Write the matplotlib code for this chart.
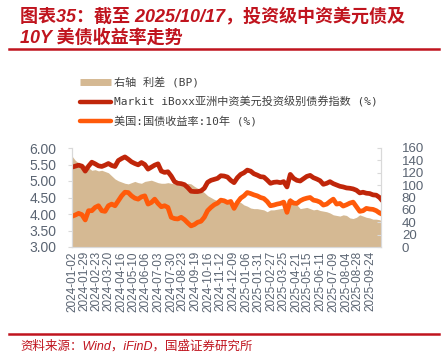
import pandas as pd
import matplotlib.pyplot as plt
from matplotlib.lines import Line2D

# weekly observation dates (plus last print 2025-10-17)
dates = pd.date_range('2024-01-02', periods=94, freq='7D').append(pd.DatetimeIndex(['2025-10-17']))

# Markit iBoxx Asia China USD IG index yield (%)
markit = [5.42, 5.45, 5.48, 5.45, 5.30, 5.45, 5.57, 5.52, 5.46, 5.44,
          5.48, 5.53, 5.47, 5.44, 5.62, 5.68, 5.73, 5.66, 5.58, 5.53,
          5.49, 5.56, 5.50, 5.36, 5.42, 5.48, 5.52, 5.30, 5.26, 5.28,
          5.15, 4.98, 4.93, 4.92, 4.89, 4.80, 4.69, 4.68, 4.68, 4.70,
          4.78, 4.96, 5.02, 5.05, 5.08, 5.16, 5.15, 5.12, 5.02, 4.95,
          5.10, 5.20, 5.25, 5.33, 5.30, 5.22, 5.18, 5.13, 5.12, 5.03,
          4.93, 4.96, 4.97, 4.95, 4.98, 4.82, 5.20, 5.08, 5.02, 5.00,
          5.07, 5.14, 5.17, 5.10, 5.06, 5.01, 4.90, 4.93, 4.98, 4.92,
          4.88, 4.84, 4.82, 4.79, 4.78, 4.76, 4.72, 4.64, 4.66, 4.63,
          4.62, 4.58, 4.57, 4.50, 4.45]

# US 10Y treasury yield (%)
ust10y = [3.93, 3.97, 4.02, 3.98, 3.82, 4.10, 4.10, 4.20, 4.25, 4.10,
          4.08, 4.25, 4.30, 4.25, 4.40, 4.55, 4.66, 4.65, 4.55, 4.48,
          4.45, 4.52, 4.55, 4.30, 4.35, 4.45, 4.32, 4.22, 4.25, 4.20,
          3.90, 3.86, 3.85, 3.90, 3.83, 3.73, 3.64, 3.68, 3.75, 3.78,
          3.90, 4.10, 4.20, 4.28, 4.33, 4.42, 4.40, 4.35, 4.38, 4.17,
          4.35, 4.48, 4.55, 4.65, 4.62, 4.58, 4.55, 4.50, 4.47, 4.38,
          4.25, 4.27, 4.30, 4.32, 4.36, 4.05, 4.40, 4.33, 4.32, 4.40,
          4.45, 4.48, 4.50, 4.42, 4.40, 4.36, 4.27, 4.30, 4.38, 4.45,
          4.30, 4.32, 4.24, 4.28, 4.33, 4.36, 4.22, 4.08, 4.10, 4.17,
          4.15, 4.14, 4.10, 4.03, 4.01]

# spread, right axis (bp)
spread = [147, 140, 136, 134, 132, 128, 124, 125, 123, 124,
          122, 120, 115, 110, 107, 105, 103, 102, 104, 106,
          104, 103, 106, 107, 108, 106, 104, 103, 103, 104,
          103, 102, 100, 100, 101, 103, 102, 98, 95, 92,
          88, 83, 80, 77, 75, 76, 74, 75, 72, 68,
          73, 72, 68, 66, 63, 62, 62, 61, 60, 57,
          60, 60, 61, 62, 63, 76, 80, 72, 68, 62,
          63, 64, 62, 60, 61, 59, 58, 57, 55, 52,
          51, 50, 52, 51, 47, 46, 48, 52, 50, 48,
          47, 45, 45, 44, 43]

tick_dates = ['2024-01-02', '2024-01-29', '2024-02-23', '2024-03-20', '2024-04-16',
              '2024-05-10', '2024-06-06', '2024-07-03', '2024-07-30', '2024-08-23',
              '2024-09-19', '2024-10-16', '2024-11-12', '2024-12-09', '2025-01-06',
              '2025-01-31', '2025-02-27', '2025-03-25', '2025-04-21', '2025-05-15',
              '2025-06-11', '2025-07-09', '2025-08-04', '2025-08-28', '2025-09-24']

labels = ['右轴 利差 (BP)', 'Markit iBoxx亚洲中资美元投资级别债券指数 (%)', '美国:国债收益率:10年 (%)']

c_tan = '#D5B993'
c_dark = '#C0260A'
c_orange = '#FF5A0A'
c_red = '#C0141E'
c_tick = '#5A6472'
c_spine = '#D9D9D9'

plt.rcParams['font.family'] = ['Liberation Sans', 'Noto Sans CJK SC']

fig = plt.figure(figsize=(4.47, 3.63), dpi=100)
ax = fig.add_axes([72 / 447, 1 - 247 / 363, (381 - 72) / 447, (247 - 148) / 363])
ax2 = ax.twinx()

ax2.fill_between(dates, 0, spread, color=c_tan, lw=0)
ax.plot(dates, markit, color=c_dark, lw=3.4, solid_joinstyle='round')
ax.plot(dates, ust10y, color=c_orange, lw=3.4, solid_joinstyle='round')
ax.set_zorder(ax2.get_zorder() + 1)
ax.patch.set_visible(False)

ax.set_xlim(pd.Timestamp('2024-01-02'), pd.Timestamp('2025-10-17'))
ax.set_ylim(3, 6)
ax.set_yticks([3, 3.5, 4, 4.5, 5, 5.5, 6])
ax.set_yticklabels(['%.2f' % v for v in [3, 3.5, 4, 4.5, 5, 5.5, 6]])
ax2.set_ylim(0, 160)
ax2.set_yticks(range(0, 161, 20))

ax.set_xticks(pd.to_datetime(tick_dates))
ax.set_xticklabels(tick_dates, rotation=90, fontsize=8.5, color=c_tick)
ax.tick_params(axis='x', length=0, pad=3)
ax.tick_params(axis='y', labelsize=10, labelcolor=c_tick, color=c_spine, length=3, pad=8)
ax2.tick_params(axis='y', labelsize=9.5, labelcolor=c_tick, color=c_spine, length=3, direction='in', pad=15)
for a in (ax, ax2):
    for s in a.spines.values():
        s.set_color(c_spine)
    a.spines['top'].set_visible(False)

# legend
handles = [Line2D([], [], color=c_tan, lw=5, solid_capstyle='butt'),
           Line2D([], [], color=c_dark, lw=3.2, solid_capstyle='round'),
           Line2D([], [], color=c_orange, lw=3.2, solid_capstyle='round')]
leg = fig.legend(handles, labels, loc='upper left', bbox_to_anchor=(70 / 447, 1 - 67 / 363),
                 frameon=False, handlelength=2.8, handletextpad=0.3, labelspacing=0.75,
                 prop={'family': ['DejaVu Sans Mono', 'Noto Sans CJK SC'], 'size': 8})
for t in leg.get_texts():
    t.set_color('#404040')

# title, rules and source
fig.text(20 / 447, 1 - 17 / 363, '图表35：截至 2025/10/17，投资级中资美元债及', color=c_red,
         fontsize=13, fontweight='bold', style='italic', va='center', ha='left')
fig.text(20 / 447, 1 - 38 / 363, '10Y 美债收益率走势', color=c_red,
         fontsize=13, fontweight='bold', style='italic', va='center', ha='left')
fig.add_artist(Line2D([9 / 447, 439 / 447], [1 - 49 / 363, 1 - 49 / 363], color=c_red, lw=1.8))
fig.add_artist(Line2D([9 / 447, 439 / 447], [1 - 334 / 363, 1 - 334 / 363], color=c_red, lw=1.8))
fig.text(20 / 447, 1 - 346 / 363, '资料来源：Wind，iFinD，国盛证券研究所', color=c_red,
         fontsize=9, style='italic', va='center', ha='left')

fig.savefig('out.png', dpi=100)
